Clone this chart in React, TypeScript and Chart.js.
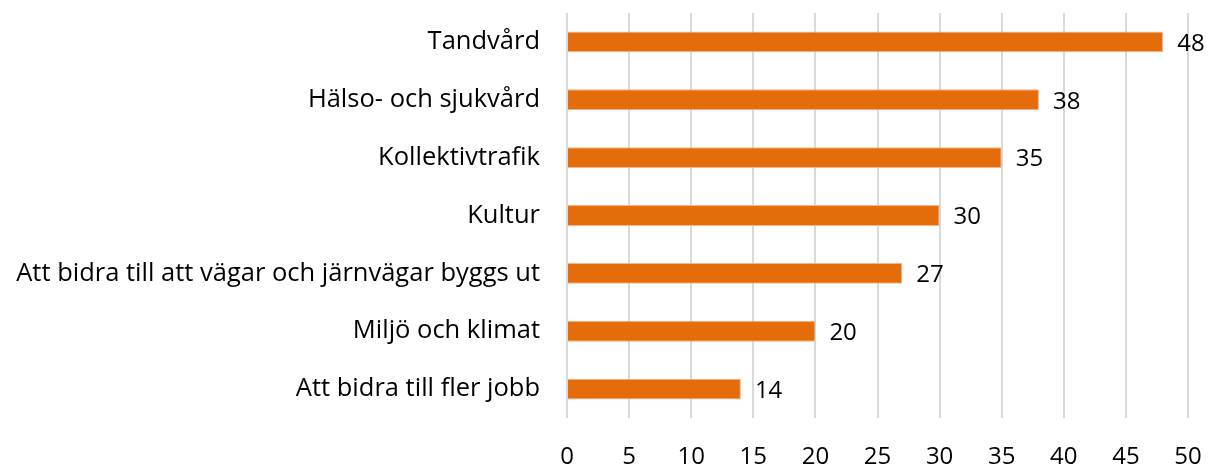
import React, { useEffect, useRef } from "react";
import { Chart, registerables } from "chart.js";

Chart.register(...registerables);

const categories = [
  "Tandvård",
  "Hälso- och sjukvård",
  "Kollektivtrafik",
  "Kultur",
  "Att bidra till att vägar och järnvägar byggs ut",
  "Miljö och klimat",
  "Att bidra till fler jobb",
];
const values = [48, 38, 35, 30, 27, 20, 14];
const xMin = 0;
const xMax = 50;
const xStep = 5;

const FONT = "'Open Sans', sans-serif";

const valueLabels = {
  id: "valueLabels",
  afterDatasetsDraw(chart: any) {
    const ctx = chart.ctx;
    const meta = chart.getDatasetMeta(0);
    ctx.save();
    ctx.font = `24px ${FONT}`;
    ctx.fillStyle = "#000";
    ctx.textAlign = "left";
    ctx.textBaseline = "middle";
    meta.data.forEach((bar: any, i: number) => {
      ctx.fillText(String(values[i]), bar.x + 14, bar.y + 2);
    });
    ctx.restore();
  },
};

export default function App() {
  const ref = useRef<HTMLCanvasElement>(null);
  useEffect(() => {
    document.body.style.margin = "0";
    const chart = new Chart(ref.current!, {
      type: "bar",
      data: {
        labels: categories,
        datasets: [
          {
            data: values,
            backgroundColor: "#E46C0A",
            borderColor: "#F2B68A",
            borderWidth: 1,
            borderSkipped: "left",
            barPercentage: 0.72,
            categoryPercentage: 0.5,
          },
        ],
      },
      options: {
        indexAxis: "y",
        animation: false,
        responsive: false,
        layout: { padding: { top: 13, right: 23, left: 0, bottom: 0 } },
        plugins: { legend: { display: false }, tooltip: { enabled: false } },
        scales: {
          x: {
            min: xMin,
            max: xMax,
            ticks: {
              stepSize: xStep,
              color: "#000",
              font: { family: FONT, size: 24 },
              padding: 25,
              maxRotation: 0,
            },
            grid: { color: "#D9D9D9", lineWidth: 2, drawTicks: false },
            border: { display: false },
            afterFit: (s: any) => {
              s.height = 50;
              s.paddingLeft = 0;
              s.paddingRight = 0;
            },
          },
          y: {
            ticks: {
              color: "#000",
              font: { family: FONT, size: 25.5 },
              padding: 27,
            },
            grid: { display: false, drawTicks: false },
            border: { display: false },
            afterFit: (s: any) => {
              s.width = 567;
              s.paddingTop = 0;
              s.paddingBottom = 0;
            },
          },
        },
      },
      plugins: [valueLabels],
    });
    return () => chart.destroy();
  }, []);
  return <canvas ref={ref} width={1211} height={468} />;
}
